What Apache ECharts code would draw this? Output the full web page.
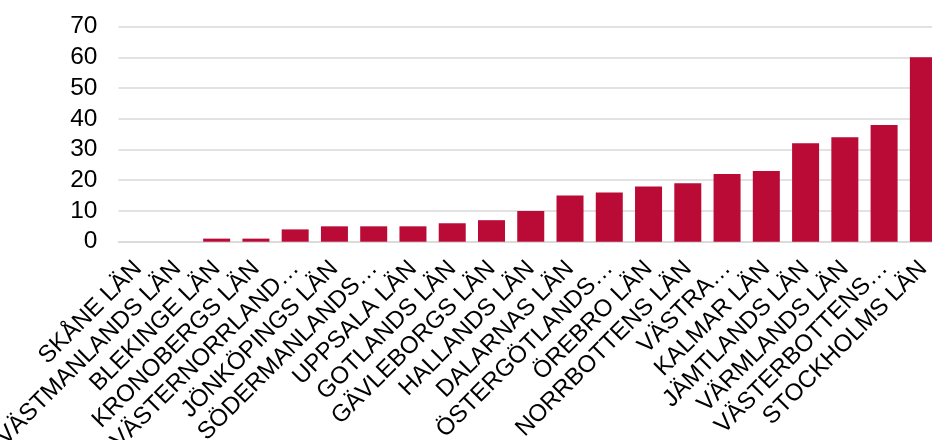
<!DOCTYPE html>
<html>
<head>
<meta charset="utf-8">
<script src="https://cdn.jsdelivr.net/npm/echarts@6/dist/echarts.min.js"></script>
<style>
html,body{margin:0;padding:0;background:#fff;}
#chart{width:932px;height:440px;}
</style>
</head>
<body>
<div id="chart"></div>
<script>
const categories = ['SKÅNE LÄN','VÄSTMANLANDS LÄN','BLEKINGE LÄN','KRONOBERGS LÄN','VÄSTERNORRLAND…','JÖNKÖPINGS LÄN','SÖDERMANLANDS…','UPPSALA LÄN','GOTLANDS LÄN','GÄVLEBORGS LÄN','HALLANDS LÄN','DALARNAS LÄN','ÖSTERGÖTLANDS…','ÖREBRO LÄN','NORRBOTTENS LÄN','VÄSTRA…','KALMAR LÄN','JÄMTLANDS LÄN','VÄRMLANDS LÄN','VÄSTERBOTTENS…','STOCKHOLMS LÄN'];
const values = [0,0,1,1,4,5,5,5,6,7,10,15,16,18,19,22,23,32,34,38,60];

const chart = echarts.init(document.getElementById('chart'));
chart.setOption({
  animation:false,
  grid:{left:118.5, right:-11, top:26.6, bottom:198.3, containLabel:false, outerBoundsMode:'none'},
  xAxis:{
    type:'category',
    data:categories,
    axisLine:{show:true,lineStyle:{color:'#d9d9d9',width:1.5}},
    axisTick:{show:false},
    axisLabel:{interval:0, rotate:45, margin:23, color:'#000', fontSize:24, fontFamily:'Liberation Sans, Arial, sans-serif'}
  },
  yAxis:{
    type:'value', min:0, max:70, interval:10,
    axisLine:{show:false}, axisTick:{show:false},
    splitLine:{lineStyle:{color:'#d9d9d9',width:1.5}},
    axisLabel:{margin:21, color:'#000', fontSize:24.5, fontFamily:'Liberation Sans, Arial, sans-serif'}
  },
  series:[{
    type:'bar',
    data:values,
    barWidth:27,
    itemStyle:{color:'#BA0A36'}
  }]
});
</script>
</body>
</html>
